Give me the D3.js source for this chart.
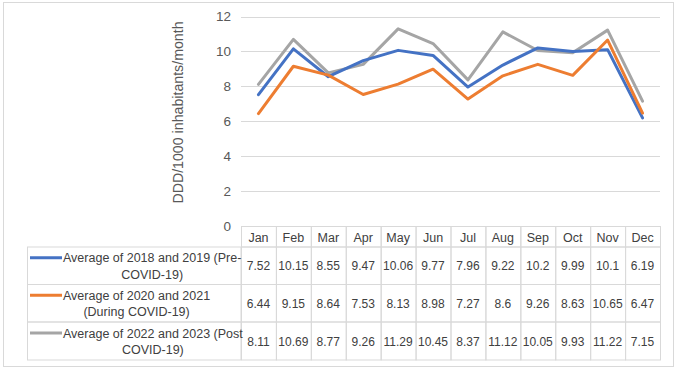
<!DOCTYPE html>
<html>
<head>
<meta charset="utf-8">
<script src="https://cdn.jsdelivr.net/npm/d3@7"></script>
<style>
  body { margin: 0; background: #fff; }
  text { font-family: "Liberation Sans", Arial, sans-serif; fill: #404040; }
</style>
</head>
<body>
<svg id="chart" width="677" height="369"></svg>
<script>
var months = ["Jan", "Feb", "Mar", "Apr", "May", "Jun", "Jul", "Aug", "Sep", "Oct", "Nov", "Dec"];
var preCovid = [7.52, 10.15, 8.55, 9.47, 10.06, 9.77, 7.96, 9.22, 10.2, 9.99, 10.1, 6.19];
var duringCovid = [6.44, 9.15, 8.64, 7.53, 8.13, 8.98, 7.27, 8.6, 9.26, 8.63, 10.65, 6.47];
var postCovid = [8.11, 10.69, 8.77, 9.26, 11.29, 10.45, 8.37, 11.12, 10.05, 9.93, 11.22, 7.15];
var yTicks = [0, 2, 4, 6, 8, 10, 12];
var yTitle = "DDD/1000 inhabitants/month";

var series = [
  { lines: ["Average of 2018 and 2019 (Pre-", "COVID-19)"], values: preCovid, color: "#4472C4" },
  { lines: ["Average of 2020 and 2021", "(During COVID-19)"], values: duringCovid, color: "#ED7D31" },
  { lines: ["Average of 2022 and 2023 (Post", "COVID-19)"], values: postCovid, color: "#A5A5A5" }
];

var svg = d3.select("#chart");
var grid = "#D9D9D9";

// outer chart border
svg.append("rect")
    .attr("x", 3.5).attr("y", 2.5)
    .attr("width", 670).attr("height", 364)
    .attr("fill", "none").attr("stroke", grid);

var x = d3.scaleBand().domain(months).range([241, 660]);
var y = d3.scaleLinear().domain([0, 12]).range([226, 16.5]);

// gridlines
svg.append("g").selectAll("line")
    .data(yTicks.filter(function(d) { return d > 0; }))
    .join("line")
    .attr("x1", 241).attr("x2", 660)
    .attr("y1", function(d) { return Math.round(y(d)) + 0.5; })
    .attr("y2", function(d) { return Math.round(y(d)) + 0.5; })
    .attr("stroke", grid);

// y axis labels
var yAxis = svg.append("g")
    .attr("transform", "translate(231,0)")
    .call(d3.axisLeft(y).tickValues(yTicks).tickSize(0).tickPadding(0));
yAxis.select(".domain").remove();
yAxis.selectAll("text")
    .style("font-family", "'Liberation Sans', Arial, sans-serif")
    .style("font-size", "13.5px")
    .style("fill", "#595959");

svg.append("text")
    .attr("transform", "translate(183,112.5) rotate(-90)")
    .attr("text-anchor", "middle")
    .style("font-size", "14.2px")
    .style("fill", "#595959")
    .text(yTitle);

// table
var rowTop = [247, 284.5, 322, 360];
var table = svg.append("g");

// header row cells
table.selectAll(".hcell")
    .data(months)
    .join("rect")
    .attr("class", "hcell")
    .attr("x", function(d) { return x(d) + 0.5; })
    .attr("y", 226.5)
    .attr("width", x.bandwidth())
    .attr("height", rowTop[0] - 226.5)
    .attr("fill", "none").attr("stroke", grid);

table.selectAll(".htext")
    .data(months)
    .join("text")
    .attr("x", function(d) { return x(d) + x.bandwidth() / 2; })
    .attr("y", 241.5)
    .attr("text-anchor", "middle")
    .style("font-size", "12.5px")
    .text(function(d) { return d; });

// body rows
series.forEach(function(s, i) {
  var top = rowTop[i], bot = rowTop[i + 1], mid = (top + bot) / 2;
  table.append("rect")
      .attr("x", 27.5).attr("y", top)
      .attr("width", 213.5).attr("height", bot - top)
      .attr("fill", "none").attr("stroke", grid);
  table.selectAll(".cell" + i)
      .data(months)
      .join("rect")
      .attr("x", function(d) { return x(d) + 0.5; })
      .attr("y", top)
      .attr("width", x.bandwidth())
      .attr("height", bot - top)
      .attr("fill", "none").attr("stroke", grid);
  table.selectAll(".val" + i)
      .data(s.values)
      .join("text")
      .attr("x", function(d, j) { return x(months[j]) + x.bandwidth() / 2; })
      .attr("y", mid + 4.5)
      .attr("text-anchor", "middle")
      .style("font-size", "12px")
      .text(function(d) { return d; });

  var l1y = mid - 8, l2y = mid + 8.5;
  table.append("line")
      .attr("x1", 30).attr("x2", 62)
      .attr("y1", l1y).attr("y2", l1y)
      .attr("stroke", s.color).attr("stroke-width", 3);
  var t1 = table.append("text")
      .attr("x", 63).attr("y", l1y + 4.5)
      .style("font-size", "12.5px")
      .text(s.lines[0]);
  var w = t1.node().getComputedTextLength();
  table.append("text")
      .attr("x", 63 + w / 2).attr("y", l2y + 4.5)
      .attr("text-anchor", "middle")
      .style("font-size", "12.5px")
      .text(s.lines[1]);
});

// lines
var line = d3.line()
    .x(function(d, i) { return x(months[i]) + x.bandwidth() / 2; })
    .y(function(d) { return y(d); });

svg.append("g").selectAll("path")
    .data([series[2], series[0], series[1]])
    .join("path")
    .attr("d", function(s) { return line(s.values); })
    .attr("fill", "none")
    .attr("stroke", function(s) { return s.color; })
    .attr("stroke-width", 3)
    .attr("stroke-linejoin", "round")
    .attr("stroke-linecap", "round");
</script>
</body>
</html>
